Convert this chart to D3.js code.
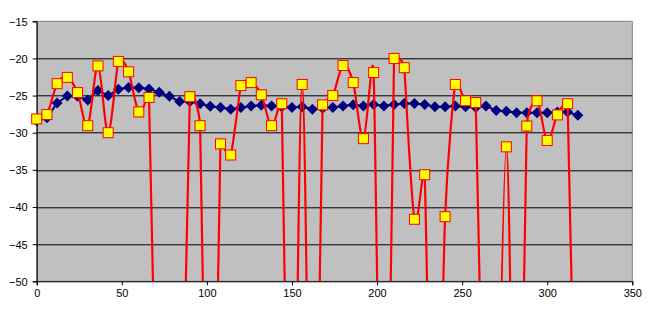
<!DOCTYPE html>
<html>
<head>
<meta charset="utf-8">
<script src="https://cdn.jsdelivr.net/npm/d3@7"></script>
<style>
  body { margin: 0; background: #fff; }
  svg text { font-family: "Liberation Sans", Arial, sans-serif; font-size: 11px; fill: #000; }
</style>
</head>
<body>
<div id="chart"></div>
<script>
// x positions shared by both series
const xValues = [0, 6, 12, 18, 24, 30, 36, 42, 48, 54, 60, 66, 72, 78, 84, 90, 96, 102, 108, 114,
  120, 126, 132, 138, 144, 150, 156, 162, 168, 174, 180, 186, 192, 198, 204, 210, 216, 222, 228, 234,
  240, 246, 252, 258, 264, 270, 276, 282, 288, 294, 300, 306, 312, 318];

// blue diamonds
const blueValues = [-28.4, -28.0, -26.0, -25.05, -25.1, -25.6, -24.3, -25.0, -24.15, -23.9,
  -23.95, -24.1, -24.55, -25.1, -25.8, -25.8, -26.1, -26.45, -26.6, -26.85,
  -26.6, -26.4, -26.3, -26.4, -26.5, -26.6, -26.5, -26.85, -26.7, -26.6,
  -26.4, -26.25, -26.4, -26.2, -26.4, -26.2, -26.05, -26.05, -26.2, -26.5,
  -26.5, -26.4, -26.5, -26.6, -26.4, -27.0, -27.1, -27.3, -27.3, -27.3,
  -27.3, -27.2, -27.2, -27.65];

// yellow squares (values below -50 fall off the chart)
const redValues = [-28.15, -27.55, -23.4, -22.55, -24.6, -29.05, -21.0, -30.0, -20.4, -21.8,
  -27.2, -25.25, -90, -90, -90, -25.15, -29.05, -90, -31.5, -33.0,
  -23.65, -23.25, -24.9, -29.05, -26.1, -90, -23.5, -90, -26.25, -25.0,
  -20.95, -23.25, -30.8, -21.9, -90, -20.0, -21.25, -41.65, -35.65, -90,
  -41.3, -23.5, -25.7, -25.95, -90, -90, -31.9, -90, -29.1, -25.7,
  -31.05, -27.6, -26.1, -90];

const xTicks = [0, 50, 100, 150, 200, 250, 300, 350];
const yTicks = [-50, -45, -40, -35, -30, -25, -20, -15];

const width = 650;
const height = 314;
const margin = { top: 21.3, right: 17.7, bottom: 32.7, left: 36.7 };
const innerW = width - margin.left - margin.right;
const innerH = height - margin.top - margin.bottom;

const svg = d3.select("#chart").append("svg")
  .attr("width", width)
  .attr("height", height);

const g = svg.append("g")
  .attr("transform", `translate(${margin.left},${margin.top})`);

const x = d3.scaleLinear().domain([0, 350]).range([0, innerW]);
const y = d3.scaleLinear().domain([-50, -15]).range([innerH, 0]);

// plot area
g.append("rect")
  .attr("width", innerW)
  .attr("height", innerH)
  .attr("fill", "#c0c0c0")
  .attr("stroke", "#808080")
  .attr("stroke-width", 1);

// gridlines
g.append("g")
  .selectAll("line")
  .data(yTicks.filter(d => d > -50 && d < -15))
  .enter()
  .append("line")
  .attr("x1", 0)
  .attr("x2", innerW)
  .attr("y1", d => Math.round(y(d)) + 0.5)
  .attr("y2", d => Math.round(y(d)) + 0.5)
  .attr("stroke", "#000")
  .attr("stroke-width", 1);

// axes
const yAxis = g.append("g")
  .call(d3.axisLeft(y).tickValues(yTicks).tickSize(4).tickPadding(5).tickFormat(d3.format("d")));
const xAxis = g.append("g")
  .attr("transform", `translate(0,${innerH})`)
  .call(d3.axisBottom(x).tickValues(xTicks).tickSize(4).tickPadding(4).tickFormat(d3.format("d")));

[yAxis, xAxis].forEach(a => {
  a.select(".domain").attr("stroke", "#000");
  a.selectAll(".tick line").attr("stroke", "#000");
  a.selectAll("text").attr("font-family", null).attr("font-size", null).attr("fill", "#000");
});
yAxis.selectAll("text").attr("dy", "0.36em");

g.append("clipPath").attr("id", "plotClip")
  .append("rect").attr("width", innerW).attr("height", innerH);

const bluePts = xValues.map((v, i) => [v, blueValues[i]]);
const redPts = xValues.map((v, i) => [v, redValues[i]]);

// spreadsheet-style smoothing: bezier handles along (next - prev),
// capped at half the shorter neighbouring segment so big jumps stay straight
function smoothPath(pts) {
  const dist = (a, b) => Math.hypot(b[0] - a[0], b[1] - a[1]);
  const handle = (i) => {
    const a = pts[Math.max(i - 1, 0)], b = pts[i], c = pts[Math.min(i + 1, pts.length - 1)];
    const dac = dist(a, c);
    if (dac === 0) return [0, 0];
    const segs = [dist(a, b), dist(b, c)].filter(s => s > 0);
    const f = Math.min(1 / 6, 0.5 * d3.min(segs) / dac);
    return [(c[0] - a[0]) * f, (c[1] - a[1]) * f];
  };
  const p = d3.path();
  p.moveTo(pts[0][0], pts[0][1]);
  for (let i = 0; i < pts.length - 1; i++) {
    const h1 = handle(i), h2 = handle(i + 1);
    const b = pts[i], c = pts[i + 1];
    p.bezierCurveTo(b[0] + h1[0], b[1] + h1[1], c[0] - h2[0], c[1] - h2[1], c[0], c[1]);
  }
  return p.toString();
}

// blue series
g.append("path")
  .datum(bluePts)
  .attr("clip-path", "url(#plotClip)")
  .attr("fill", "none")
  .attr("stroke", "#000080")
  .attr("stroke-width", 2)
  .attr("d", d3.line().x(d => x(d[0])).y(d => y(d[1])));

g.append("g")
  .selectAll("path")
  .data(bluePts.filter(d => d[1] >= -50))
  .enter()
  .append("path")
  .attr("transform", d => `translate(${x(d[0])},${y(d[1])})`)
  .attr("d", "M0,-5.5L5.5,0L0,5.5L-5.5,0Z")
  .attr("fill", "#000080");

// red series, smoothed
g.append("path")
  .datum(redPts)
  .attr("clip-path", "url(#plotClip)")
  .attr("fill", "none")
  .attr("stroke", "#ff0000")
  .attr("stroke-width", 2.2)
  .attr("d", d => smoothPath(d.map(p => [x(p[0]), y(p[1])])));

g.append("g")
  .selectAll("rect")
  .data(redPts.filter(d => d[1] >= -50))
  .enter()
  .append("rect")
  .attr("x", d => x(d[0]) - 5)
  .attr("y", d => y(d[1]) - 5)
  .attr("width", 10)
  .attr("height", 10)
  .attr("fill", "#ffff00")
  .attr("stroke", "#ff0000")
  .attr("stroke-width", 1);
</script>
</body>
</html>
